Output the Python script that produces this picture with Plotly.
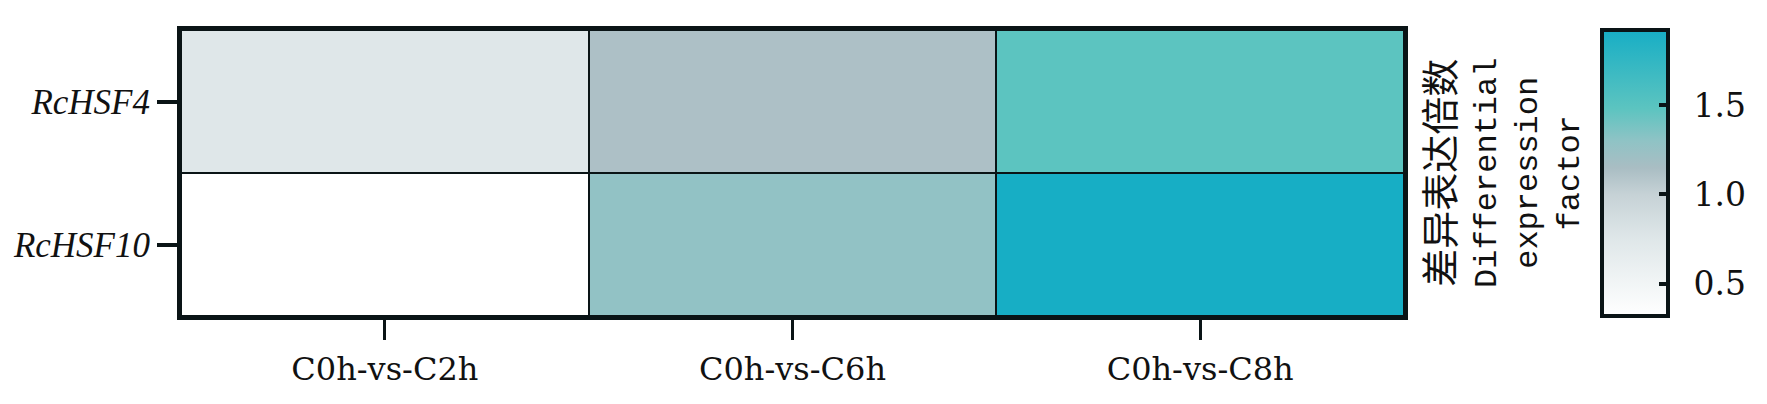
import plotly.graph_objects as go

comparisons = ["C0h-vs-C2h", "C0h-vs-C6h", "C0h-vs-C8h"]
genes = ["RcHSF4", "RcHSF10"]
hsf4_values = [0.75, 1.13, 1.48]
hsf10_values = [0.32, 1.28, 1.92]
cbar_ticks = [0.5, 1.0, 1.5]
cbar_ticktext = ["0.5", "1.0", "1.5"]

vmin, vmax = 0.32, 1.92

def pos(v):
    return (v - vmin) / (vmax - vmin)

colorscale = [
    [0.0, "#ffffff"],
    [pos(0.75), "#dfe7e9"],
    [pos(1.0), "#c6d2d6"],
    [pos(1.15), "#a9bdc3"],
    [pos(1.3), "#8fc3c5"],
    [pos(1.48), "#5cc4c0"],
    [1.0, "#17aec5"],
]

W, H = 1767, 404
OFF = 8  # page body margin offset
L, R, T, B = 181 - OFF, 1404 - OFF, 30 - OFF, 316 - OFF
PW = R - L
CB_LEFT = 1602 - OFF
CB_W = 66
cb_x = (CB_LEFT - L) / PW
INK = "#0a1416"

fig = go.Figure(go.Heatmap(
    z=[hsf4_values, hsf10_values],
    x=comparisons,
    y=genes,
    zmin=vmin, zmax=vmax,
    colorscale=colorscale,
    xgap=2, ygap=2,
    colorbar=dict(
        x=cb_x, xanchor="left", xref="paper",
        y=0.5, yanchor="middle", len=1.0, lenmode="fraction",
        thickness=CB_W, thicknessmode="pixels",
        xpad=0, ypad=0,
        outlinewidth=4, outlinecolor=INK,
        ticks="inside", ticklen=11, tickwidth=4, tickcolor=INK,
        tickvals=cbar_ticks, ticktext=["\u2002" + t for t in cbar_ticktext],
        tickfont=dict(family="DejaVu Serif", size=33, color="#111"),
        title=dict(text=""),
    ),
))

# ticks on the left inner edge of the colour bar, mirroring the right ones
for v in cbar_ticks:
    fig.add_shape(
        type="line", xref="paper", yref="paper",
        x0=cb_x, x1=cb_x + 13 / PW, y0=pos(v), y1=pos(v),
        line=dict(color=INK, width=4),
    )

fig.update_xaxes(
    showline=True, linewidth=4, linecolor=INK, mirror=True,
    ticks="outside", ticklen=20, tickwidth=3, tickcolor=INK,
    ticklabelstandoff=2,
    tickfont=dict(family="DejaVu Serif", size=32, color="#111"),
    showgrid=False, zeroline=False,
)
fig.update_yaxes(
    autorange="reversed",
    showline=True, linewidth=4, linecolor=INK, mirror=True,
    ticks="outside", ticklen=20, tickwidth=4, tickcolor=INK,
    tickvals=genes, ticktext=["<i>" + g + "</i>" for g in genes],
    tickfont=dict(family="Liberation Serif", size=35, color="#111"),
    showgrid=False, zeroline=False,
)

fig.add_annotation(
    xref="paper", yref="paper",
    x=(1499 - OFF - L) / PW, y=0.5, xanchor="center", yanchor="middle",
    textangle=-90, showarrow=False, align="center",
    text="<span style='font-family:Noto Sans CJK SC;font-size:38px'>差异表达倍数</span><br>Differential<br>expression<br>factor",
    font=dict(family="Liberation Mono", size=32, color="#111"),
)

fig.update_layout(
    width=W, height=H,
    margin=dict(l=L, r=W - R, t=T, b=H - B, autoexpand=False),
    plot_bgcolor=INK,
    paper_bgcolor="white",
)

fig.write_html("out.html")
